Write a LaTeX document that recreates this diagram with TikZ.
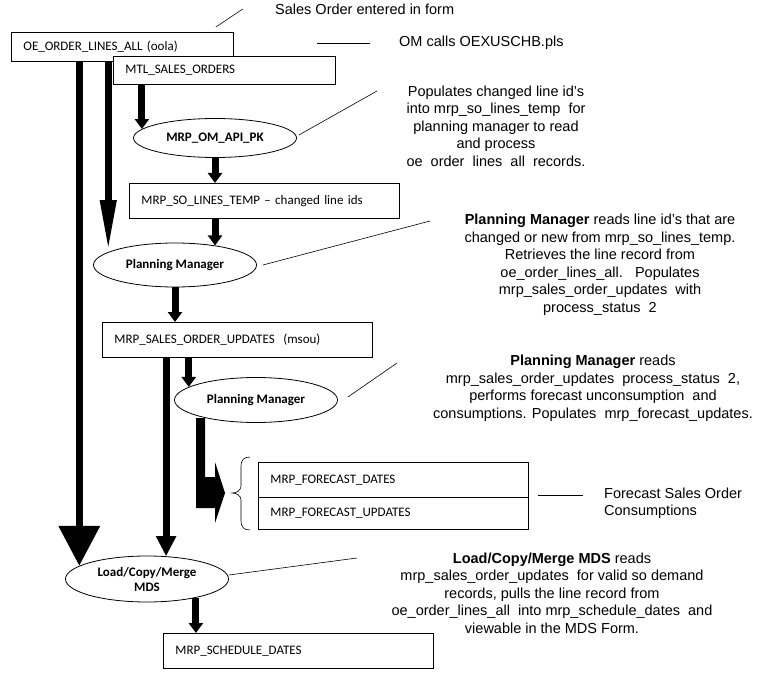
\documentclass[tikz,border=0pt]{standalone}
\usepackage{fontspec}
\setmainfont{Liberation Sans}
\newfontfamily\tblfont{Carlito}
\usetikzlibrary{shapes.geometric,arrows.meta}

\begin{document}
\begin{tikzpicture}[x=1pt,y=-1pt,
  tbl/.style={draw,line width=0.8pt,fill=white,anchor=north west,align=left,inner xsep=12pt,inner ysep=0pt,font=\tblfont\fontsize{13}{15}\selectfont},
  proc/.style={draw,line width=0.8pt,fill=white,ellipse,inner sep=0pt,minimum width=163pt,align=center,font=\tblfont\bfseries\fontsize{13}{15}\selectfont},
  note/.style={inner sep=0pt,align=center,font=\fontsize{14.5}{17.5}\selectfont},
  lead/.style={line width=0.6pt},
  flow/.style={line width=7pt,-{Triangle[width=14pt,length=10pt]}}]
\useasboundingbox (0,0) rectangle (780,674);
\node[tbl,text width=198pt,minimum height=29pt] (oola) at (11,32) {OE\_ORDER\_LINES\_ALL (oola)};
\node[tbl,text width=198pt,minimum height=28pt] (mtl) at (113,56) {MTL\_SALES\_ORDERS};
\node[proc,minimum height=39pt] (api) at (215,138) {MRP\_OM\_API\_PK};
\node[tbl,text width=246pt,minimum height=35pt] (sotemp) at (129,183) {MRP\_SO\_LINES\_TEMP – changed line ids};
\node[proc,minimum height=44pt] (pm1) at (175,265) {Planning Manager};
\node[tbl,text width=246pt,minimum height=35pt] (msou) at (102,322) {MRP\_SALES\_ORDER\_UPDATES\ \ (msou)};
\fill (196,418) -- (205,418) -- (205,477) -- (215,477) -- (215,462) -- (225,493) -- (215,523) -- (215,508) -- (196,508) -- cycle;
\node[proc,minimum height=45pt] (pm2) at (256,400) {Planning Manager};
\node[tbl,text width=246pt,minimum height=35pt] (fcd) at (258,462) {MRP\_FORECAST\_DATES};
\node[tbl,text width=246pt,minimum height=32pt] (fcu) at (258,497) {MRP\_FORECAST\_UPDATES};
\node[proc,minimum height=46pt] (lcm) at (147,579) {Load/Copy/Merge\\MDS};
\node[tbl,text width=246pt,minimum height=35pt] (sched) at (163,633) {MRP\_SCHEDULE\_DATES};

\draw[flow] (api.173 |- mtl.south) -- (api.173);
\draw[flow] (api.south) -- (api.south |- sotemp.north);
\draw[flow] (pm1.26 |- sotemp.south) -- (pm1.26);
\draw[flow] (pm1.south) -- (pm1.south |- msou.north);
\draw[flow] (pm2.169 |- msou.south) -- (pm2.169);
\draw[flow] (lcm.-21) -- (lcm.-21 |- sched.north);
\draw[line width=7pt,-{Triangle[width=40pt,length=40pt]}] (lcm.169 |- oola.south) -- (lcm.169);
\draw[line width=7pt,-{Triangle[width=15pt,length=52pt]}] (pm1.169 |- oola.south) -- (pm1.169);
\draw[line width=7pt,-{Triangle[width=19pt,length=20pt]}] (lcm.50 |- msou.south) -- (lcm.50);
\draw[lead] (250,457) .. controls (244,457) and (241,460) .. (241,466) -- (241,486) .. controls (241,490) and (237,493) .. (232,493) .. controls (237,493) and (241,496) .. (241,500) -- (241,521) .. controls (241,527) and (244,530) .. (250,530);

\node[note,anchor=west] (sotxt) at (275,9) {Sales Order entered in form};
\node[note,anchor=west] (omtxt) at (399,43) {OM calls OEXUSCHB.pls};
\node[note] (poptxt) at (496,126) {Populates changed line id’s\\into mrp\_so\_lines\_temp\ \ for\\planning manager to read\\and process\\oe\ \ order\ \ lines\ \ all\ \ records.};
\node[note] (pm1txt) at (600,265) {\textbf{Planning Manager} reads line id’s that are\\changed or new from mrp\_so\_lines\_temp.\\Retrieves the line record from\\oe\_order\_lines\_all.\ \ \ Populates\\mrp\_sales\_order\_updates\ \ with\\process\_status\ \ 2};
\node[note] (pm2txt) at (593,388) {\textbf{Planning Manager} reads\\mrp\_sales\_order\_updates\ \ process\_status\ \ 2,\\performs forecast unconsumption\ \ and\\consumptions. Populates\ \ mrp\_forecast\_updates.};
\node[note,align=left,anchor=west] (fctxt) at (604,503) {Forecast Sales Order\\Consumptions};
\node[note] (lcmtxt) at (552,593) {\textbf{Load/Copy/Merge MDS} reads\\mrp\_sales\_order\_updates\ \ for valid so demand\\records, pulls the line record from\\oe\_order\_lines\_all\ \ into mrp\_schedule\_dates\ \ and\\viewable in the MDS Form.};

\coordinate (popend) at (377,91);
\coordinate (pm1end) at (430,221);
\coordinate (pm2end) at (397,363);
\coordinate (lcmend) at (357,558);
\draw[lead] ([shift={(-18pt,5pt)}]oola.north east) -- ++(27,-18);
\draw[lead] ([xshift=-29pt]omtxt.west) -- ++(-53,0);
\draw[lead] ([shift={(2pt,3pt)}]api.east) -- (popend);
\draw[lead] ([xshift=6pt]pm1.east) -- (pm1end);
\draw[lead] ([shift={(10pt,3pt)}]pm2.east) -- (pm2end);
\draw[lead] ([shift={(9pt,3pt)}]fcd.south east) -- ++(45,0);
\draw[lead] ([yshift=4pt]lcm.east) -- (lcmend);
\end{tikzpicture}
\end{document}
